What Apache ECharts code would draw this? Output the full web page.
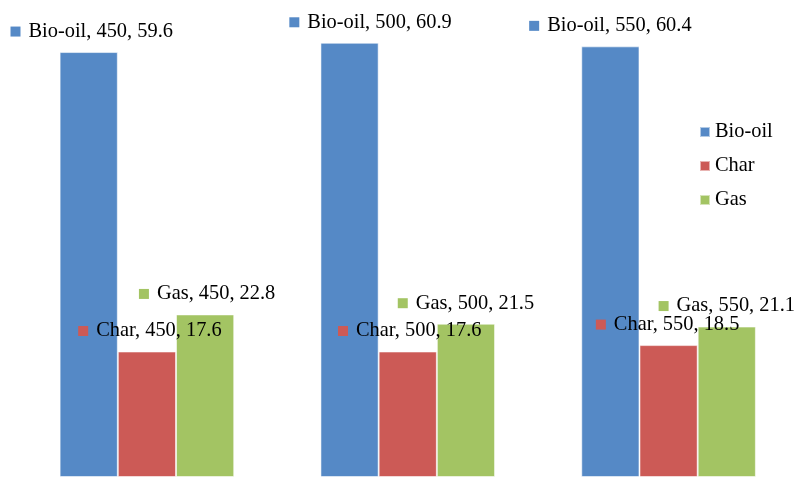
<!DOCTYPE html>
<html>
<head>
<meta charset="utf-8">
<script src="https://cdn.jsdelivr.net/npm/echarts@6/dist/echarts.min.js"></script>
<style>
  html, body { margin: 0; padding: 0; background: #fff; }
  #chart { width: 799px; height: 477px; }
</style>
</head>
<body>
<div id="chart"></div>
<script>
// Pyrolysis temperature groups and product yields
const temperatures = ['450', '500', '550'];
const bioOil = [59.6, 60.9, 60.4];
const charYield = [17.6, 17.6, 18.5];
const gasYield = [22.8, 21.5, 21.1];

const seriesNames = ['Bio-oil', 'Char', 'Gas'];
const colors = ['#5589c6', '#cc5a56', '#a3c463'];

// small horizontal nudges for individual labels (series index -> per category px)
const labelShift = [
  [3, 21, 0],
  [3, 2, -1],
  [2, 0, 0]
];

const FONT = 'Liberation Serif';

function makeSeries(idx, values) {
  return {
    name: seriesNames[idx],
    type: 'bar',
    barWidth: 58.2,
    barGap: '0%',
    itemStyle: {
      color: colors[idx],
      borderColor: 'rgba(255,255,255,0.55)',
      borderWidth: 1
    },
    data: values.map((v, i) => ({
      value: v,
      label: { offset: [labelShift[idx][i], 0] }
    })),
    label: {
      show: true,
      position: 'top',
      distance: 9.5,
      fontFamily: FONT,
      formatter: p => '{sq|}{g|}{t|' + p.seriesName + ', ' + p.name + ', ' + p.value + '}',
      rich: {
        sq: { width: 10, height: 10, backgroundColor: colors[idx] },
        g: { width: 8 },
        t: { fontSize: 20.4, fontFamily: FONT, color: '#000', lineHeight: 22 }
      }
    }
  };
}

const chart = echarts.init(document.getElementById('chart'), null, { renderer: 'canvas' });
chart.setOption({
  animation: false,
  backgroundColor: '#fff',
  textStyle: { fontFamily: FONT },
  grid: { left: 16.5, top: 0, width: 787, height: 483, containLabel: false },
  xAxis: {
    type: 'category',
    data: temperatures,
    show: false
  },
  yAxis: {
    type: 'value',
    min: 0,
    max: 66.9,
    show: false
  },
  legend: {
    orient: 'vertical',
    left: 694,
    top: 116,
    itemWidth: 10,
    itemHeight: 10,
    itemGap: 12,
    icon: 'rect',
    data: seriesNames,
    textStyle: { fontSize: 20.4, fontFamily: FONT, color: '#000', lineHeight: 22 }
  },
  series: [
    makeSeries(0, bioOil),
    makeSeries(1, charYield),
    makeSeries(2, gasYield)
  ]
});
</script>
</body>
</html>
